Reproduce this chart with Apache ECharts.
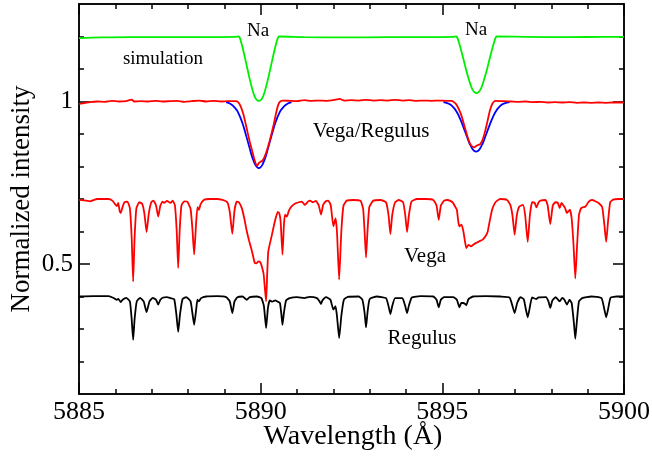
<!DOCTYPE html>
<html>
<head>
<meta charset="utf-8">
<script src="https://cdn.jsdelivr.net/npm/echarts@6/dist/echarts.min.js"></script>
<style>
  html, body { margin: 0; padding: 0; background: #fff; }
  #chart { width: 652px; height: 458px; }
</style>
</head>
<body>
<div id="chart"></div>
<script>
// Wavelength axis (Å) and intensity axis settings
const xMin = 5885, xMax = 5900;
const xMajorTicks = [5885, 5890, 5895, 5900];
const xMinorTicks = [5886, 5887, 5888, 5889, 5891, 5892, 5893, 5894, 5896, 5897, 5898, 5899];
const yMin = 0.1, yMax = 1.3;
const yMajorTicks = [0.5, 1];
const yMinorTicks = [0.2, 0.3, 0.4, 0.6, 0.7, 0.8, 0.9, 1.1, 1.2];

// Synthetic Na D profile (offset by +0.2)
const simulation = [
  [5885.00, 1.195], [5885.60, 1.197], [5886.40, 1.198], [5887.50, 1.198], [5888.60, 1.198], [5889.30, 1.199],
  [5889.39, 1.200], [5889.42, 1.197], [5889.45, 1.188], [5889.50, 1.167], [5889.55, 1.143], [5889.60, 1.118],
  [5889.65, 1.093], [5889.70, 1.068], [5889.75, 1.046], [5889.80, 1.026], [5889.85, 1.012], [5889.90, 1.004],
  [5889.95, 1.002], [5890.00, 1.004], [5890.05, 1.012], [5890.10, 1.026], [5890.15, 1.046], [5890.20, 1.068],
  [5890.25, 1.093], [5890.30, 1.118], [5890.35, 1.143], [5890.40, 1.167], [5890.45, 1.188], [5890.48, 1.197],
  [5890.51, 1.200], [5891.20, 1.198], [5892.30, 1.197], [5893.50, 1.198], [5894.60, 1.198], [5895.30, 1.199],
  [5895.38, 1.200], [5895.41, 1.197], [5895.44, 1.188], [5895.49, 1.169], [5895.54, 1.148], [5895.59, 1.126],
  [5895.64, 1.104], [5895.69, 1.083], [5895.74, 1.064], [5895.79, 1.047], [5895.84, 1.035], [5895.89, 1.028],
  [5895.94, 1.026], [5895.99, 1.028], [5896.04, 1.035], [5896.09, 1.047], [5896.14, 1.064], [5896.19, 1.083],
  [5896.24, 1.104], [5896.29, 1.126], [5896.34, 1.148], [5896.39, 1.169], [5896.44, 1.188], [5896.47, 1.197],
  [5896.50, 1.200], [5897.30, 1.199], [5898.50, 1.198], [5899.40, 1.199], [5900.00, 1.199]
];

// Fitted D2 and D1 profiles of the ratio
const ratioModelD2 = [
  [5889.05, 0.998], [5889.15, 0.994], [5889.25, 0.986], [5889.35, 0.972], [5889.40, 0.961], [5889.45, 0.948],
  [5889.50, 0.933], [5889.55, 0.915], [5889.60, 0.895], [5889.65, 0.875], [5889.70, 0.855], [5889.75, 0.835],
  [5889.80, 0.819], [5889.85, 0.806], [5889.90, 0.798], [5889.95, 0.795], [5890.00, 0.798], [5890.05, 0.806],
  [5890.10, 0.819], [5890.15, 0.835], [5890.20, 0.855], [5890.25, 0.875], [5890.30, 0.895], [5890.35, 0.915],
  [5890.40, 0.933], [5890.45, 0.948], [5890.50, 0.961], [5890.55, 0.972], [5890.65, 0.986], [5890.75, 0.994],
  [5890.85, 0.998]
];
const ratioModelD1 = [
  [5895.03, 0.998], [5895.13, 0.995], [5895.23, 0.990], [5895.33, 0.979], [5895.38, 0.971], [5895.43, 0.961],
  [5895.48, 0.949], [5895.53, 0.936], [5895.58, 0.921], [5895.63, 0.906], [5895.68, 0.891], [5895.73, 0.876],
  [5895.78, 0.864], [5895.83, 0.854], [5895.88, 0.848], [5895.93, 0.846], [5895.98, 0.848], [5896.03, 0.854],
  [5896.08, 0.864], [5896.13, 0.876], [5896.18, 0.891], [5896.23, 0.906], [5896.28, 0.921], [5896.33, 0.936],
  [5896.38, 0.949], [5896.43, 0.961], [5896.48, 0.971], [5896.53, 0.979], [5896.63, 0.990], [5896.73, 0.995],
  [5896.85, 0.998]
];

// Observed Vega / Regulus ratio
const ratioSpectrum = [
  [5885.00, 0.993], [5885.15, 0.995], [5885.30, 0.998], [5885.50, 1.000], [5885.70, 0.999], [5885.90, 1.002],
  [5886.10, 1.000], [5886.30, 1.001], [5886.45, 1.006], [5886.52, 1.000], [5886.70, 1.001], [5886.90, 1.000],
  [5887.10, 1.002], [5887.30, 1.000], [5887.50, 1.001], [5887.70, 1.002], [5887.90, 0.999], [5888.10, 1.001],
  [5888.30, 1.003], [5888.50, 1.000], [5888.70, 1.002], [5888.90, 1.000], [5889.10, 1.001], [5889.30, 1.001],
  [5889.38, 0.998], [5889.45, 0.985], [5889.52, 0.962], [5889.58, 0.935], [5889.64, 0.905], [5889.70, 0.876],
  [5889.76, 0.850], [5889.82, 0.825], [5889.86, 0.810], [5889.89, 0.803], [5889.92, 0.805], [5889.96, 0.812],
  [5890.00, 0.815], [5890.05, 0.818], [5890.10, 0.828], [5890.15, 0.842], [5890.20, 0.860], [5890.25, 0.880],
  [5890.30, 0.902], [5890.36, 0.930], [5890.42, 0.962], [5890.47, 0.985], [5890.52, 0.998], [5890.60, 1.003],
  [5890.80, 1.002], [5891.00, 1.001], [5891.20, 1.004], [5891.40, 1.002], [5891.60, 1.003], [5891.80, 1.002],
  [5892.00, 1.004], [5892.18, 1.008], [5892.30, 1.003], [5892.50, 1.004], [5892.70, 1.003], [5892.90, 1.005],
  [5893.10, 1.003], [5893.30, 1.004], [5893.50, 1.003], [5893.70, 1.005], [5893.90, 1.003], [5894.10, 1.004],
  [5894.30, 1.002], [5894.50, 1.003], [5894.70, 1.002], [5894.90, 1.003], [5895.10, 1.002], [5895.25, 1.002],
  [5895.32, 0.998], [5895.39, 0.990], [5895.46, 0.975], [5895.53, 0.955], [5895.60, 0.928], [5895.67, 0.900],
  [5895.74, 0.876], [5895.80, 0.864], [5895.85, 0.860], [5895.88, 0.859], [5895.93, 0.863], [5895.98, 0.866],
  [5896.04, 0.869], [5896.10, 0.880], [5896.17, 0.905], [5896.24, 0.938], [5896.31, 0.972], [5896.38, 0.994],
  [5896.46, 1.002], [5896.70, 1.001], [5896.90, 1.000], [5897.10, 0.999], [5897.30, 1.000], [5897.50, 0.998],
  [5897.70, 0.999], [5897.90, 0.997], [5898.10, 0.998], [5898.30, 0.997], [5898.50, 0.998], [5898.70, 0.996],
  [5898.90, 0.997], [5899.10, 0.996], [5899.30, 0.997], [5899.50, 0.996], [5899.70, 0.997], [5900.00, 0.997]
];

// Vega spectrum (offset by -0.3)
const vegaSpectrum = [
  [5885.00, 0.697], [5885.20, 0.695], [5885.30, 0.693], [5885.50, 0.700], [5885.80, 0.700], [5885.92, 0.695],
  [5886.00, 0.683], [5886.04, 0.678], [5886.08, 0.688], [5886.12, 0.662], [5886.15, 0.657], [5886.19, 0.672],
  [5886.25, 0.690], [5886.33, 0.692], [5886.40, 0.672], [5886.45, 0.580], [5886.49, 0.446], [5886.53, 0.580],
  [5886.58, 0.672], [5886.66, 0.690], [5886.74, 0.685], [5886.80, 0.655], [5886.86, 0.598], [5886.92, 0.655],
  [5886.99, 0.690], [5887.05, 0.695], [5887.12, 0.680], [5887.18, 0.646], [5887.24, 0.680], [5887.30, 0.692],
  [5887.34, 0.688], [5887.42, 0.694], [5887.52, 0.688], [5887.58, 0.695], [5887.64, 0.680], [5887.69, 0.600],
  [5887.73, 0.488], [5887.77, 0.600], [5887.82, 0.680], [5887.90, 0.693], [5887.98, 0.692], [5888.07, 0.670],
  [5888.12, 0.610], [5888.17, 0.529], [5888.22, 0.620], [5888.26, 0.675], [5888.30, 0.667], [5888.35, 0.685],
  [5888.45, 0.698], [5888.60, 0.700], [5888.80, 0.700], [5888.95, 0.697], [5889.08, 0.690], [5889.15, 0.660],
  [5889.22, 0.593], [5889.28, 0.665], [5889.34, 0.692], [5889.40, 0.690], [5889.48, 0.672], [5889.55, 0.640],
  [5889.62, 0.600], [5889.68, 0.572], [5889.75, 0.544], [5889.80, 0.520], [5889.84, 0.503], [5889.88, 0.502],
  [5889.94, 0.508], [5889.99, 0.505], [5890.03, 0.493], [5890.08, 0.470], [5890.12, 0.420], [5890.15, 0.385],
  [5890.18, 0.470], [5890.21, 0.539], [5890.30, 0.585], [5890.39, 0.631], [5890.47, 0.660], [5890.51, 0.657],
  [5890.55, 0.630], [5890.60, 0.529], [5890.64, 0.620], [5890.67, 0.652], [5890.72, 0.646], [5890.78, 0.665],
  [5890.85, 0.677], [5890.95, 0.686], [5891.05, 0.690], [5891.13, 0.692], [5891.22, 0.682], [5891.30, 0.692],
  [5891.36, 0.695], [5891.44, 0.690], [5891.52, 0.694], [5891.60, 0.680], [5891.66, 0.652], [5891.72, 0.682],
  [5891.80, 0.694], [5891.86, 0.695], [5891.93, 0.680], [5892.00, 0.616], [5892.06, 0.640], [5892.10, 0.600],
  [5892.16, 0.452], [5892.22, 0.600], [5892.28, 0.680], [5892.37, 0.695], [5892.55, 0.697], [5892.75, 0.694],
  [5892.82, 0.670], [5892.86, 0.600], [5892.90, 0.520], [5892.94, 0.600], [5892.99, 0.675], [5893.10, 0.695],
  [5893.30, 0.697], [5893.45, 0.690], [5893.52, 0.650], [5893.57, 0.592], [5893.62, 0.650], [5893.70, 0.690],
  [5893.80, 0.697], [5893.92, 0.690], [5893.98, 0.650], [5894.03, 0.598], [5894.08, 0.650], [5894.15, 0.692],
  [5894.30, 0.700], [5894.55, 0.700], [5894.75, 0.697], [5894.84, 0.680], [5894.90, 0.636], [5894.96, 0.680],
  [5895.05, 0.695], [5895.15, 0.697], [5895.28, 0.690], [5895.36, 0.675], [5895.40, 0.667], [5895.44, 0.630],
  [5895.47, 0.616], [5895.53, 0.621], [5895.58, 0.600], [5895.63, 0.565], [5895.66, 0.549], [5895.72, 0.559],
  [5895.79, 0.554], [5895.86, 0.560], [5895.93, 0.565], [5896.02, 0.570], [5896.11, 0.575], [5896.20, 0.588],
  [5896.25, 0.600], [5896.30, 0.630], [5896.37, 0.667], [5896.45, 0.688], [5896.51, 0.695], [5896.60, 0.700],
  [5896.78, 0.697], [5896.87, 0.682], [5896.93, 0.650], [5896.99, 0.590], [5897.05, 0.650], [5897.12, 0.677],
  [5897.22, 0.682], [5897.28, 0.650], [5897.35, 0.568], [5897.41, 0.650], [5897.47, 0.690], [5897.54, 0.688],
  [5897.59, 0.674], [5897.65, 0.690], [5897.70, 0.695], [5897.84, 0.697], [5897.90, 0.680], [5897.97, 0.623],
  [5898.04, 0.680], [5898.11, 0.690], [5898.18, 0.688], [5898.23, 0.672], [5898.28, 0.688], [5898.32, 0.682],
  [5898.38, 0.672], [5898.43, 0.657], [5898.51, 0.667], [5898.56, 0.640], [5898.61, 0.560], [5898.66, 0.455],
  [5898.71, 0.560], [5898.76, 0.650], [5898.82, 0.672], [5898.94, 0.677], [5899.03, 0.692], [5899.12, 0.697],
  [5899.30, 0.688], [5899.40, 0.675], [5899.46, 0.620], [5899.51, 0.568], [5899.56, 0.630], [5899.62, 0.690],
  [5899.70, 0.698], [5899.85, 0.700], [5900.00, 0.700]
];

// Regulus spectrum (offset by -0.6)
const regulusSpectrum = [
  [5885.00, 0.400], [5885.40, 0.401], [5885.80, 0.401], [5885.92, 0.397], [5886.00, 0.392], [5886.04, 0.390],
  [5886.08, 0.393], [5886.15, 0.383], [5886.20, 0.390], [5886.30, 0.396], [5886.40, 0.385], [5886.45, 0.330],
  [5886.49, 0.267], [5886.53, 0.330], [5886.59, 0.385], [5886.68, 0.396], [5886.78, 0.385], [5886.86, 0.352],
  [5886.94, 0.385], [5887.03, 0.396], [5887.12, 0.390], [5887.18, 0.375], [5887.24, 0.390], [5887.32, 0.397],
  [5887.42, 0.398], [5887.52, 0.395], [5887.62, 0.392], [5887.68, 0.345], [5887.73, 0.291], [5887.78, 0.345],
  [5887.85, 0.392], [5887.95, 0.398], [5888.07, 0.385], [5888.12, 0.350], [5888.17, 0.313], [5888.22, 0.355],
  [5888.26, 0.390], [5888.30, 0.385], [5888.36, 0.395], [5888.50, 0.400], [5888.80, 0.401], [5889.05, 0.398],
  [5889.15, 0.385], [5889.22, 0.349], [5889.28, 0.385], [5889.36, 0.398], [5889.50, 0.400], [5889.62, 0.390],
  [5889.70, 0.398], [5889.90, 0.400], [5890.02, 0.395], [5890.09, 0.370], [5890.15, 0.303], [5890.20, 0.365],
  [5890.25, 0.388], [5890.32, 0.384], [5890.40, 0.388], [5890.47, 0.384], [5890.53, 0.380], [5890.57, 0.345],
  [5890.60, 0.313], [5890.64, 0.350], [5890.70, 0.388], [5890.80, 0.395], [5891.00, 0.398], [5891.20, 0.395],
  [5891.35, 0.399], [5891.55, 0.395], [5891.62, 0.385], [5891.66, 0.377], [5891.70, 0.388], [5891.80, 0.398],
  [5891.92, 0.390], [5892.00, 0.360], [5892.06, 0.370], [5892.10, 0.340], [5892.16, 0.272], [5892.22, 0.340],
  [5892.29, 0.390], [5892.40, 0.399], [5892.70, 0.400], [5892.80, 0.390], [5892.86, 0.350], [5892.90, 0.305],
  [5892.94, 0.350], [5893.00, 0.392], [5893.20, 0.400], [5893.45, 0.395], [5893.52, 0.370], [5893.57, 0.346],
  [5893.62, 0.370], [5893.70, 0.395], [5893.90, 0.395], [5893.98, 0.370], [5894.03, 0.349], [5894.08, 0.372],
  [5894.16, 0.397], [5894.40, 0.401], [5894.75, 0.400], [5894.84, 0.390], [5894.90, 0.367], [5894.96, 0.390],
  [5895.05, 0.398], [5895.30, 0.398], [5895.40, 0.390], [5895.47, 0.367], [5895.52, 0.380], [5895.57, 0.380],
  [5895.62, 0.378], [5895.66, 0.373], [5895.72, 0.392], [5895.85, 0.400], [5896.20, 0.401], [5896.60, 0.400],
  [5896.85, 0.397], [5896.92, 0.375], [5896.99, 0.349], [5897.06, 0.380], [5897.15, 0.398], [5897.24, 0.392],
  [5897.30, 0.360], [5897.35, 0.336], [5897.40, 0.362], [5897.47, 0.397], [5897.58, 0.392], [5897.65, 0.397],
  [5897.85, 0.398], [5897.92, 0.385], [5897.97, 0.365], [5898.03, 0.388], [5898.12, 0.398], [5898.23, 0.385],
  [5898.30, 0.396], [5898.36, 0.390], [5898.43, 0.375], [5898.50, 0.390], [5898.56, 0.380], [5898.62, 0.320],
  [5898.66, 0.270], [5898.70, 0.320], [5898.76, 0.385], [5898.85, 0.395], [5899.10, 0.400], [5899.38, 0.395],
  [5899.46, 0.360], [5899.51, 0.336], [5899.56, 0.360], [5899.63, 0.396], [5899.80, 0.400], [5900.00, 0.400]
];

// Curve labels
const labelTexts = {
  na: 'Na', simulation: 'simulation', ratio: 'Vega/Regulus', vega: 'Vega', regulus: 'Regulus',
  xTitle: 'Wavelength (Å)', yTitle: 'Normalized intensity'
};

const SERIF = '"Liberation Serif", "Times New Roman", serif';
const frame = { color: '#000', width: 1.5 };

function xAxisDef(position, ticks, len, showLabel) {
  return {
    type: 'value', position, min: xMin, max: xMax,
    axisLine: { show: true, lineStyle: frame },
    axisTick: { show: true, inside: true, length: len, customValues: ticks, lineStyle: frame },
    splitLine: { show: false },
    axisLabel: showLabel
      ? { show: true, customValues: ticks, formatter: v => String(v), fontFamily: SERIF, fontSize: 26, color: '#000', margin: 5 }
      : { show: false }
  };
}
function yAxisDef(position, ticks, len, showLabel) {
  return {
    type: 'value', position, min: yMin, max: yMax,
    axisLine: { show: true, lineStyle: frame },
    axisTick: { show: true, inside: true, length: len, customValues: ticks, lineStyle: frame },
    splitLine: { show: false },
    axisLabel: showLabel
      ? { show: true, customValues: ticks, fontFamily: SERIF, fontSize: 25, color: '#000', margin: 6 }
      : { show: false }
  };
}

function lineSeries(data, color, smooth) {
  return {
    type: 'line', data, xAxisIndex: 0, yAxisIndex: 0,
    showSymbol: false, symbol: 'none', smooth: smooth, animation: false,
    lineStyle: { color, width: 1.8 }, clip: true, silent: true
  };
}

const chart = echarts.init(document.getElementById('chart'), null, { renderer: 'canvas' });
chart.setOption({
  animation: false,
  backgroundColor: '#fff',
  grid: { left: 79, right: 28, top: 4, bottom: 64, containLabel: false, outerBoundsMode: 'none' },
  xAxis: [
    xAxisDef('bottom', xMajorTicks, 11, true),
    xAxisDef('bottom', xMinorTicks, 5, false),
    xAxisDef('top', xMajorTicks, 11, false),
    xAxisDef('top', xMinorTicks, 5, false)
  ],
  yAxis: [
    yAxisDef('left', yMajorTicks, 11, true),
    yAxisDef('left', yMinorTicks, 5, false),
    yAxisDef('right', yMajorTicks, 11, false),
    yAxisDef('right', yMinorTicks, 5, false)
  ],
  series: [
    lineSeries(simulation, '#00ee00', 0.3),
    lineSeries(ratioModelD2, '#0000ff', 0.3),
    lineSeries(ratioModelD1, '#0000ff', 0.3),
    lineSeries(ratioSpectrum, '#ff0000', 0.2),
    lineSeries(vegaSpectrum, '#ff0000', 0.15),
    lineSeries(regulusSpectrum, '#000000', 0.15)
  ],
  graphic: [
    { type: 'text', x: 258, y: 31, style: { text: labelTexts.na, font: '19px ' + SERIF, fill: '#000', align: 'center', verticalAlign: 'middle' } },
    { type: 'text', x: 476, y: 30, style: { text: labelTexts.na, font: '19px ' + SERIF, fill: '#000', align: 'center', verticalAlign: 'middle' } },
    { type: 'text', x: 163, y: 59, style: { text: labelTexts.simulation, font: '19px ' + SERIF, fill: '#000', align: 'center', verticalAlign: 'middle' } },
    { type: 'text', x: 371, y: 131, style: { text: labelTexts.ratio, font: '21px ' + SERIF, fill: '#000', align: 'center', verticalAlign: 'middle' } },
    { type: 'text', x: 425, y: 256, style: { text: labelTexts.vega, font: '21px ' + SERIF, fill: '#000', align: 'center', verticalAlign: 'middle' } },
    { type: 'text', x: 422, y: 338, style: { text: labelTexts.regulus, font: '21px ' + SERIF, fill: '#000', align: 'center', verticalAlign: 'middle' } },
    { type: 'text', x: 353, y: 437, style: { text: labelTexts.xTitle, font: '28px ' + SERIF, fill: '#000', align: 'center', verticalAlign: 'middle' } },
    { type: 'text', x: 22, y: 199, rotation: Math.PI / 2, style: { text: labelTexts.yTitle, font: '27px ' + SERIF, fill: '#000', align: 'center', verticalAlign: 'middle' } }
  ]
});
</script>
</body>
</html>
